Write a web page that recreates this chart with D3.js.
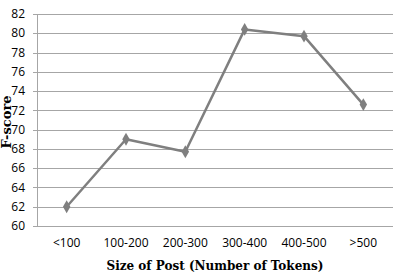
<!DOCTYPE html>
<html>
<head>
<meta charset="utf-8">
<script src="https://cdnjs.cloudflare.com/ajax/libs/d3/7.8.5/d3.min.js"></script>
<style>
  body { margin: 0; background: #fff; }
  svg { display: block; }
</style>
</head>
<body>
<script>
// data
var categories = ["<100", "100-200", "200-300", "300-400", "400-500", ">500"];
var fscore = [62.0, 69.0, 67.7, 80.4, 79.7, 72.6];
var yTicks = [60, 62, 64, 66, 68, 70, 72, 74, 76, 78, 80, 82];

var width = 394,
    height = 272;

// plot box
var plotLeft = 37, plotRight = 393, plotTop = 14, plotBottom = 226;

var svg = d3.select("body").append("svg")
    .attr("width", width)
    .attr("height", height);

var x = d3.scaleBand()
    .domain(categories)
    .range([plotLeft, plotRight]);

var y = d3.scaleLinear()
    .domain([60, 82])
    .range([plotBottom, plotTop]);

// gridlines (with small tick to the left)
svg.append("g")
    .selectAll("line")
    .data(yTicks)
    .enter().append("line")
    .attr("x1", plotLeft - 4)
    .attr("x2", plotRight)
    .attr("y1", function(d) { return Math.round(y(d)) + 0.5; })
    .attr("y2", function(d) { return Math.round(y(d)) + 0.5; })
    .attr("stroke", "#a6a6a6")
    .attr("stroke-width", 1);

// left axis line
svg.append("line")
    .attr("x1", plotLeft + 0.5).attr("x2", plotLeft + 0.5)
    .attr("y1", plotTop).attr("y2", plotBottom + 0.5)
    .attr("stroke", "#a6a6a6");

// y tick labels
svg.append("g")
    .selectAll("text")
    .data(yTicks)
    .enter().append("text")
    .attr("x", 25)
    .attr("y", function(d) { return y(d); })
    .attr("dy", "0.35em")
    .attr("text-anchor", "end")
    .attr("font-family", "Open Sans, sans-serif")
    .attr("font-size", 12)
    .attr("fill", "#000")
    .text(function(d) { return d; });

// x tick labels
svg.append("g")
    .selectAll("text")
    .data(categories)
    .enter().append("text")
    .attr("x", function(d) { return x(d) + x.bandwidth() / 2; })
    .attr("y", 247)
    .attr("text-anchor", "middle")
    .attr("font-family", "Open Sans, sans-serif")
    .attr("font-size", 12)
    .attr("fill", "#000")
    .text(function(d) { return d; });

// line
var line = d3.line()
    .x(function(d, i) { return x(categories[i]) + x.bandwidth() / 2; })
    .y(function(d) { return y(d); });

svg.append("path")
    .datum(fscore)
    .attr("d", line)
    .attr("fill", "none")
    .attr("stroke", "#7f7f7f")
    .attr("stroke-width", 2.5)
    .attr("stroke-linejoin", "round");

svg.append("g")
    .selectAll("path")
    .data(fscore)
    .enter().append("path")
    .attr("d", d3.symbol().type(d3.symbolDiamond).size(48))
    .attr("transform", function(d, i) {
        return "translate(" + (x(categories[i]) + x.bandwidth() / 2) + "," + y(d) + ")";
    })
    .attr("fill", "#7f7f7f");

// axis titles
svg.append("text")
    .attr("x", 215)
    .attr("y", 270)
    .attr("text-anchor", "middle")
    .attr("font-family", "DejaVu Serif, serif")
    .attr("font-weight", "bold")
    .attr("font-size", 12)
    .text("Size of Post (Number of Tokens)");

svg.append("text")
    .attr("transform", "translate(11,122) rotate(-90)")
    .attr("text-anchor", "middle")
    .attr("font-family", "DejaVu Serif, serif")
    .attr("font-weight", "bold")
    .attr("font-size", 13)
    .text("F-score");
</script>
</body>
</html>
